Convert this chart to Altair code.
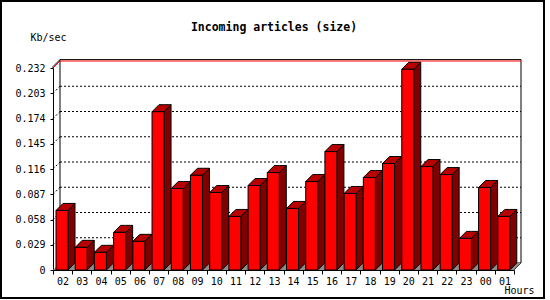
import altair as alt
import pandas as pd

# ---- data ----
HOURS = ["02", "03", "04", "05", "06", "07", "08", "09", "10", "11", "12", "13",
         "14", "15", "16", "17", "18", "19", "20", "21", "22", "23", "00", "01"]
VALUES = [0.0684, 0.0260, 0.0203, 0.0432, 0.0329, 0.1818, 0.0936, 0.1088,
          0.0890, 0.0615, 0.0970, 0.1119, 0.0707, 0.1016, 0.1360, 0.0879,
          0.1062, 0.1223, 0.2305, 0.1188, 0.1096, 0.0363, 0.0948, 0.0615]
Y_TICKS = [0, 0.029, 0.058, 0.087, 0.116, 0.145, 0.174, 0.203, 0.232]
MAX_VALUE = 0.232
TITLE = "Incoming articles (size)"
Y_TITLE = "Kb/sec"
X_TITLE = "Hours"

# ---- geometry (pixels) ----
N = len(HOURS)
PLOT_W, PLOT_H = 468, 210
X_RANGE = 461          # front x axis length in px
Y0_PX, YMAX_PX = 210, 8
DEPTH = 7              # 3-D depth in px
BAR_OFF, BAR_W = 3, 12

SX = X_RANGE / N                       # px per category
SY = (Y0_PX - YMAX_PX) / MAX_VALUE     # px per value unit
DX = DEPTH / SX
DY = DEPTH / SY
A = BAR_OFF / SX
W = BAR_W / SX
TOPV = MAX_VALUE + 1.4 / SY

FONT = "DejaVu Sans Mono"

XS = alt.Scale(domain=[0, N], range=[0, X_RANGE], nice=False, zero=False)
YS = alt.Scale(domain=[0, MAX_VALUE], range=[Y0_PX, YMAX_PX], nice=False, zero=False)

hours_js = "[" + ",".join("'%s'" % h for h in HOURS) + "]"
X_AX = alt.Axis(values=list(range(N + 1)), tickSize=4, labelPadding=2,
                labelOffset=SX / 2, labelFlush=False, labelOverlap=False,
                labelExpr="datum.value < %d ? %s[datum.value] : ''" % (N, hours_js),
                title=X_TITLE, titleX=451, titleY=23, titleAlign="left",
                titleBaseline="alphabetic", grid=False)
Y_AX = alt.Axis(values=Y_TICKS, tickSize=3, labelPadding=5,
                labelExpr="datum.value == 0 ? '0' : format(datum.value, '.3f')",
                title=Y_TITLE, titleAngle=0, titleX=-23, titleY=-20,
                titleAlign="left", titleBaseline="alphabetic", grid=False)


def X(f):
    return alt.X(f, type="quantitative", scale=XS, axis=X_AX)


def Y(f):
    return alt.Y(f, type="quantitative", scale=YS, axis=Y_AX, stack=None)


# ---- tables ----
front = pd.DataFrame({
    "x": [i + A for i in range(N)],
    "x2": [i + A + W for i in range(N)],
    "y": [0.0] * N,
    "y2": VALUES,
})

side_rows, top_rows = [], []
for i, v in enumerate(VALUES):
    x0, x1 = i + A, i + A + W
    side_rows += [dict(b="b%02d" % i, x=x1, y=0.0, y2=v),
                  dict(b="b%02d" % i, x=x1 + DX, y=DY, y2=v + DY)]
    top_rows += [dict(b="b%02d" % i, x=x0, y=v, y2=v),
                 dict(b="b%02d" % i, x=x0 + DX, y=v, y2=v + DY),
                 dict(b="b%02d" % i, x=x1, y=v, y2=v + DY),
                 dict(b="b%02d" % i, x=x1 + DX, y=v + DY, y2=v + DY)]
side = pd.DataFrame(side_rows)
top = pd.DataFrame(top_rows)

floor = pd.DataFrame([
    dict(b="f", x=0.0, y=0.0, y2=0.0),
    dict(b="f", x=DX, y=0.0, y2=DY),
    dict(b="f", x=float(N), y=0.0, y2=DY),
    dict(b="f", x=N + DX, y=DY, y2=DY),
])

wall = pd.DataFrame([dict(x=DX, x2=N + DX, y=DY, y2=TOPV + DY)])

grid_rows = []
for t in Y_TICKS[1:-1]:
    grid_rows.append(dict(x=DX, x2=N + DX, y=t + DY, y2=t + DY))
    grid_rows.append(dict(x=0.0, x2=DX, y=t, y2=t + DY))
grid = pd.DataFrame(grid_rows)

maxline = pd.DataFrame([
    dict(x=DX, x2=N + DX, y=MAX_VALUE + DY, y2=MAX_VALUE + DY),
    dict(x=0.0, x2=DX, y=MAX_VALUE, y2=MAX_VALUE + DY),
])

edges = pd.DataFrame([
    dict(x=0.0, x2=DX, y=TOPV, y2=TOPV + DY),
    dict(x=0.0, x2=0.0, y=MAX_VALUE, y2=TOPV),
    dict(x=float(N), x2=N + DX, y=0.0, y2=DY),
])

# ---- layers ----
border = alt.Chart(alt.Data(values=[{}])).mark_rect(
    fill=None, stroke="black", strokeWidth=2
).encode(x=alt.value(1 - 53), x2=alt.value(544 - 53),
         y=alt.value(1 - 60), y2=alt.value(298 - 60))

wall_l = alt.Chart(wall).mark_rect(fill="white", stroke="black", strokeWidth=1).encode(
    x=X("x"), x2="x2", y=Y("y"), y2="y2")

grid_l = alt.Chart(grid).mark_rule(color="black", strokeWidth=1, strokeDash=[2, 2]).encode(
    x=X("x"), x2="x2", y=Y("y"), y2="y2")

max_l = alt.Chart(maxline).mark_rule(color="#ff0000", strokeWidth=1).encode(
    x=X("x"), x2="x2", y=Y("y"), y2="y2")

edge_l = alt.Chart(edges).mark_rule(color="black", strokeWidth=1).encode(
    x=X("x"), x2="x2", y=Y("y"), y2="y2")

floor_l = alt.Chart(floor).mark_area(
    fill="#8c8c8c", orient="vertical", interpolate="linear"
).encode(x=X("x"), y=Y("y"), y2="y2", detail="b:N")

side_l = alt.Chart(side).mark_area(
    fill="#800000", stroke="black", strokeWidth=1, orient="vertical", interpolate="linear"
).encode(x=X("x"), y=Y("y"), y2="y2", detail="b:N")

top_l = alt.Chart(top).mark_area(
    fill="#b80000", stroke="black", strokeWidth=1, orient="vertical", interpolate="linear"
).encode(x=X("x"), y=Y("y"), y2="y2", detail="b:N")

front_l = alt.Chart(front).mark_rect(color="#ff0000", stroke="black", strokeWidth=1).encode(
    x=X("x"), x2="x2", y=Y("y"), y2="y2")

title_l = alt.Chart(alt.Data(values=[{}])).mark_text(
    text=TITLE, font=FONT, fontSize=11.5, fontWeight="bold", color="black",
    align="center", baseline="alphabetic"
).encode(x=alt.value(274 - 53), y=alt.value(31 - 60))

chart = alt.layer(
    border, wall_l, grid_l, max_l, edge_l, floor_l, side_l, top_l, front_l, title_l
).properties(
    width=PLOT_W, height=PLOT_H,
    padding={"left": 53, "top": 60, "right": 29, "bottom": 30},
    autosize=alt.AutoSizeParams(type="none"),
    background="white",
).configure_view(stroke=None).configure_axis(
    labelFont=FONT, labelFontSize=10, labelColor="black",
    titleFont=FONT, titleFontSize=10, titleFontWeight="normal", titleColor="black",
    domainColor="black", tickColor="black", domainWidth=1, tickWidth=1,
)

chart.save("out.html", embed_options={"renderer": "svg", "actions": False})
